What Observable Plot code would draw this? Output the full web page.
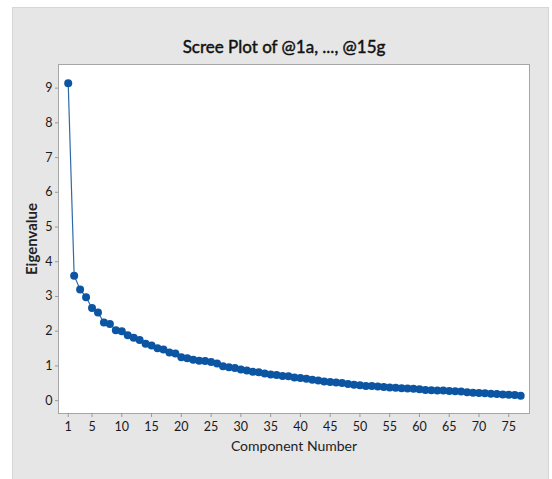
<!DOCTYPE html>
<html>
<head>
<meta charset="utf-8">
<script src="https://cdn.jsdelivr.net/npm/d3@7"></script>
<script src="https://cdn.jsdelivr.net/npm/@observablehq/plot@0.6"></script>
<style>
  html, body { margin: 0; padding: 0; background: #ffffff; }
  #wrap { position: relative; width: 552px; height: 479px; overflow: hidden; }
  #panel { position: absolute; left: 12px; top: 7px; width: 537px; height: 472px; background: #e6e6e6; box-sizing: border-box; border-top: 1px solid #d6d6d6; border-left: 1px solid #d6d6d6; border-right: 1px solid #d6d6d6; }
  #chart { position: absolute; left: 0; top: 0; }
</style>
</head>
<body>
<div id="wrap"><div id="panel"></div><div id="chart"></div></div>
<script>
const title = "Scree Plot of @1a, ..., @15g";
const xLabel = "Component Number";
const yLabel = "Eigenvalue";

const components = [1,2,3,4,5,6,7,8,9,10,11,12,13,14,15,16,17,18,19,20,
  21,22,23,24,25,26,27,28,29,30,31,32,33,34,35,36,37,38,39,40,
  41,42,43,44,45,46,47,48,49,50,51,52,53,54,55,56,57,58,59,60,
  61,62,63,64,65,66,67,68,69,70,71,72,73,74,75,76,77];

const eigenvalues = [9.14,3.60,3.20,2.98,2.67,2.54,2.25,2.21,2.03,2.00,
  1.88,1.81,1.75,1.64,1.59,1.51,1.47,1.39,1.36,1.25,
  1.22,1.18,1.15,1.14,1.11,1.07,0.99,0.96,0.94,0.90,
  0.87,0.83,0.82,0.78,0.75,0.74,0.71,0.70,0.67,0.65,
  0.63,0.60,0.58,0.55,0.54,0.52,0.51,0.48,0.46,0.44,
  0.42,0.42,0.41,0.39,0.38,0.37,0.36,0.35,0.34,0.33,
  0.31,0.30,0.29,0.29,0.28,0.27,0.26,0.24,0.23,0.22,
  0.21,0.20,0.19,0.18,0.17,0.16,0.14];

const xTicks = [1,5,10,15,20,25,30,35,40,45,50,55,60,65,70,75];
const yTicks = [0,1,2,3,4,5,6,7,8,9];

const data = components.map((c, i) => ({component: c, eigenvalue: eigenvalues[i]}));

const lineColor = "#2f6aa8";
const dotColor = "#0b55a3";

const chart = Plot.plot({
  width: 552,
  height: 479,
  marginLeft: 58,
  marginRight: 23,
  marginTop: 64,
  marginBottom: 66,
  style: {background: "transparent", fontFamily: "Lato, 'Noto Sans', sans-serif", fontSize: "12px", color: "#222"},
  x: {domain: [-0.63, 78.48], ticks: xTicks, tickSize: 4, tickPadding: 5, label: null},
  y: {domain: [-0.37, 9.68], ticks: yTicks, tickSize: 3, tickPadding: 3, label: null},
  marks: [
    Plot.frame({fill: "white", stroke: "#a6a6a6", strokeWidth: 1}),
    Plot.axisX({ticks: xTicks, tickSize: 4, tickPadding: 5, stroke: "#999", fill: "#1a1a1a", fontSize: 12.5, label: null}),
    Plot.axisY({ticks: yTicks, tickSize: 3, tickPadding: 3, stroke: "#999", fill: "#1a1a1a", fontSize: 12.5, label: null}),
    Plot.line(data, {x: "component", y: "eigenvalue", stroke: lineColor, strokeWidth: 1.2}),
    Plot.dot(data, {x: "component", y: "eigenvalue", r: 4, fill: dotColor, stroke: "none"}),
    Plot.text([title], {text: d => d, frameAnchor: "top", dx: -10, dy: -24, fontSize: 17, fill: "#111", stroke: "#111", strokeWidth: 0.45}),
    Plot.text([yLabel], {text: d => d, frameAnchor: "left", textAnchor: "middle", dx: -26, rotate: -90, fontSize: 15, fontWeight: "bold", fill: "#222"}),
    Plot.text([xLabel], {text: d => d, frameAnchor: "bottom", dy: 37, fontSize: 14, fill: "#222"})
  ]
});
document.getElementById("chart").appendChild(chart);
</script>
</body>
</html>
